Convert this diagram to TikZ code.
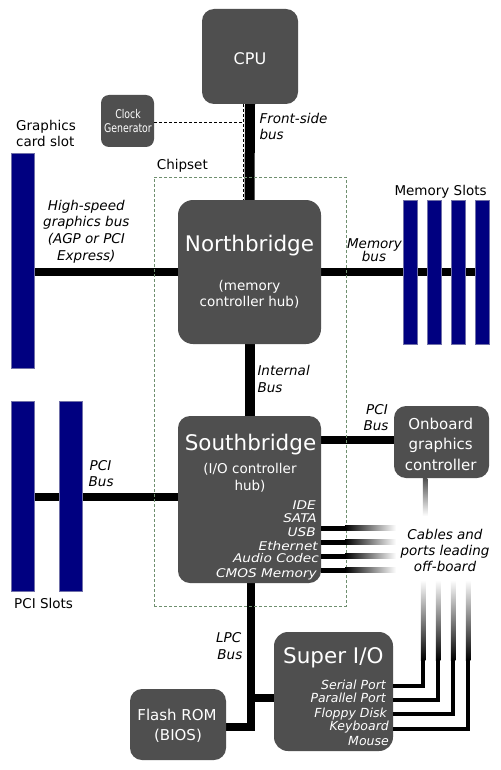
\documentclass[tikz,border=0pt]{standalone}
\usepackage{fontspec}
\setmainfont{DejaVu Sans}
\pgfdeclarelayer{bg}
\pgfsetlayers{bg,main}
\definecolor{boxgray}{HTML}{4F4F4F}
\definecolor{slotblue}{HTML}{000080}
\definecolor{slotedge}{HTML}{7070A8}
\definecolor{chipgreen}{HTML}{6F8F6F}
\newcommand\fsz[1]{\fontsize{#1}{#1}\selectfont}
\newcommand\wideport[1]{\scalebox{1.14}[1]{#1}}
\begin{document}
\begin{tikzpicture}[x=1pt,y=-1pt,
 box/.style={fill=boxgray,inner sep=0pt,outer sep=0pt},
 slot/.style={fill=slotblue,draw=slotedge,line width=0.5pt,inner sep=0pt,outer sep=0pt,minimum width=22.5pt},
 mslot/.style={slot,minimum width=14pt,minimum height=144pt},
 bus/.style={line width=8.5pt},
 vbus/.style={line width=10pt},
 cable/.style={line width=4.5pt,line join=miter},
 txt/.style={inner sep=0pt,anchor=base,font=\fsz{13.5}},
 itxt/.style={txt,font=\fsz{13.5}\itshape},
 wtxt/.style={txt,text=white},
 ptxt/.style={inner sep=0pt,anchor=base east,text=white,font=\fsz{12}\itshape},
 stxt/.style={inner sep=0pt,anchor=base east,text=white,font=\fsz{12.5}\itshape},
 clk/.style={dash pattern=on 3pt off 2pt,line width=1pt}
]
\useasboundingbox (0,0) rectangle (500,770);
\begin{pgfonlayer}{bg}
\fill[white] (0,0) rectangle (500,770);
\end{pgfonlayer}

% boxes
\node[box,rounded corners=12pt,minimum width=96pt,minimum height=95pt] (cpu) at (250,56.5) {};
\node[box,rounded corners=8pt,minimum width=53pt,minimum height=52pt] (clk) at (127.5,121) {};
\node[box,rounded corners=15pt,minimum width=143pt,minimum height=144pt] (nb) at (249.5,272) {};
\node[box,rounded corners=12pt,minimum width=143pt,minimum height=167pt] (sb) at (249.5,499.5) {};
\node[box,rounded corners=12pt,minimum width=95pt,minimum height=72pt] (ogc) at (441.5,442) {};
\node[box,rounded corners=14pt,minimum width=119pt,minimum height=119pt] (sio) at (333.5,691.5) {};
\node[box,rounded corners=12pt,minimum width=96pt,minimum height=71pt] (flash) at (178,724.5) {};

% slots
\node[slot,minimum height=215pt] (gfx) at (22.5,260.5) {};
\node[slot,minimum height=190pt] (p1) at (22.5,496) {};
\node[slot,minimum height=190pt] (p2) at (70.5,496) {};
\node[mslot] (m1) at (410,272) {};
\node[mslot] (m2) at (434,272) {};
\node[mslot] (m3) at (458,272) {};
\node[mslot] (m4) at (482,272) {};

% chipset outline
\node[draw=chipgreen,dash pattern=on 3pt off 2pt,line width=0.8pt,minimum width=192pt,minimum height=429pt,inner sep=0pt] (chip) at (250,391.5) {};

% named coordinates
\coordinate (clkj) at (243,123);
\coordinate (pciy) at (0,497);
\coordinate (ogcy) at (0,440);
\coordinate (lpcx) at (251,731);
\coordinate (flashy) at (255,727);
\coordinate (sioy) at (251,698);

\begin{pgfonlayer}{bg}
\draw[vbus] (cpu.south) -- (nb.north);
\draw[vbus] (nb.south) -- (sb.north);
\draw[bus] (nb.west) -- (nb.west -| gfx.center);
\draw[bus] (nb.east) -- (nb.east -| m4.west);
\draw[bus] (sb.west |- pciy) -- (p1.center |- pciy);
\draw[bus] (sb.east |- ogcy) -- (ogc.west |- ogcy);
\draw[bus] (sb.south -| lpcx) -- (lpcx);
\draw[bus] (flash.east |- flashy) -- (flashy);
\draw[bus] (sio.west |- sioy) -- (sioy);
\end{pgfonlayer}
\draw[clk] (clk.east |- clkj) -- (clkj);
\draw[clk] (cpu.south -| clkj) -- (nb.north -| clkj);

% cables from southbridge
\foreach \yy in {528,542,556,570}{
  \fill[black] (321,\yy-2.5) rectangle (345,\yy+2.5);
  \shade[left color=black,right color=white] (345,\yy-2.5) rectangle (396,\yy+2.5);
}
% onboard graphics fading cable
\shade[top color=boxgray,bottom color=white] (422.75,478) rectangle (427.25,516);
% super io cables
\foreach \xx/\yy in {423/686,438/700,453/714,468/729}{
  \draw[cable] (393,\yy) -- (\xx,\yy) -- (\xx,659);
  \shade[top color=white,bottom color=black] (\xx-2.25,580) rectangle (\xx+2.25,660);
}

% texts in boxes
\node[wtxt,font=\fsz{16}] (tcpu) at (250,64.3) {CPU};
\node[wtxt,font=\fsz{12}] (tclk1) at (128,118.3) {\scalebox{0.78}[1]{Clock}};
\node[wtxt,font=\fsz{12}] (tclk2) at (128,132.7) {\scalebox{0.78}[1]{Generator}};
\node[wtxt,font=\fsz{21.5}] (tnb) at (249.5,251) {Northbridge};
\node[wtxt] (tnb2) at (249.5,290) {(memory};
\node[wtxt] (tnb3) at (249.5,306) {controller hub)};
\node[wtxt,font=\fsz{21.5}] (tsb) at (250.5,450) {Southbridge};
\node[wtxt] (tsb2) at (250,473.3) {(I/O controller};
\node[wtxt] (tsb3) at (250,490) {hub)};
\node[ptxt] (ide) at (316,509) {\wideport{IDE}};
\node[ptxt] (sata) at (317,522.3) {\wideport{SATA}};
\node[ptxt] (usb) at (316,536) {\wideport{USB}};
\node[ptxt] (eth) at (318,550) {\wideport{Ethernet}};
\node[ptxt] (aud) at (319,562.7) {\wideport{Audio Codec}};
\node[ptxt] (cmos) at (317,577.3) {\wideport{CMOS Memory}};
\node[wtxt,font=\fsz{15}] (tog1) at (440.7,429.3) {Onboard};
\node[wtxt,font=\fsz{15}] (tog2) at (440.7,449.3) {graphics};
\node[wtxt,font=\fsz{15}] (tog3) at (440.7,470) {controller};
\node[wtxt,font=\fsz{21.5}] (tsio) at (333.3,663.3) {Super I/O};
\node[stxt] (ser) at (386,689.3) {Serial Port};
\node[stxt] (par) at (386,702.7) {Parallel Port};
\node[stxt] (flo) at (387,717.3) {Floppy Disk};
\node[stxt] (kbd) at (389,730.7) {Keyboard};
\node[stxt] (mou) at (389,745) {Mouse};
\node[wtxt,font=\fsz{15}] (tfl1) at (177,720) {Flash ROM};
\node[wtxt,font=\fsz{15}] (tfl2) at (178,740) {(BIOS)};

% outside labels
\node[txt,anchor=base west] (tg1) at (16,130.7) {Graphics};
\node[txt,anchor=base west] (tg2) at (16,146.7) {card slot};
\node[itxt,anchor=base west] (tfsb1) at (259.3,124) {Front-side};
\node[itxt,anchor=base west] (tfsb2) at (259.3,139.3) {bus};
\node[txt,anchor=base west] (tchip) at (156.7,169) {Chipset};
\node[txt,anchor=base west] (tms) at (394.3,195) {Memory Slots};
\node[itxt] (th1) at (86.3,210) {High-speed};
\node[itxt] (th2) at (86.3,226.7) {graphics bus};
\node[itxt] (th3) at (86.3,243.3) {(AGP or PCI};
\node[itxt] (th4) at (86.3,260) {Express)};
\node[itxt] (tmb1) at (374.5,248.3) {Memory};
\node[itxt] (tmb2) at (374,261) {bus};
\node[itxt,anchor=base west] (tib1) at (257.3,375) {Internal};
\node[itxt,anchor=base west] (tib2) at (257.3,392) {Bus};
\node[itxt] (tpb1) at (377,414.3) {PCI};
\node[itxt] (tpb2) at (376,430) {Bus};
\node[itxt,anchor=base west] (tpl1) at (89.5,470) {PCI};
\node[itxt,anchor=base west] (tpl2) at (88.5,486.7) {Bus};
\node[itxt] (tc1) at (445,539.3) {Cables and};
\node[itxt] (tc2) at (445,555) {ports leading};
\node[itxt] (tc3) at (445,571.7) {off-board};
\node[txt,anchor=base west] (tps) at (14,608.3) {PCI Slots};
\node[itxt,anchor=base east] (tlpc1) at (241.5,642.3) {LPC};
\node[itxt,anchor=base east] (tlpc2) at (242.5,659) {Bus};
\end{tikzpicture}
\end{document}
